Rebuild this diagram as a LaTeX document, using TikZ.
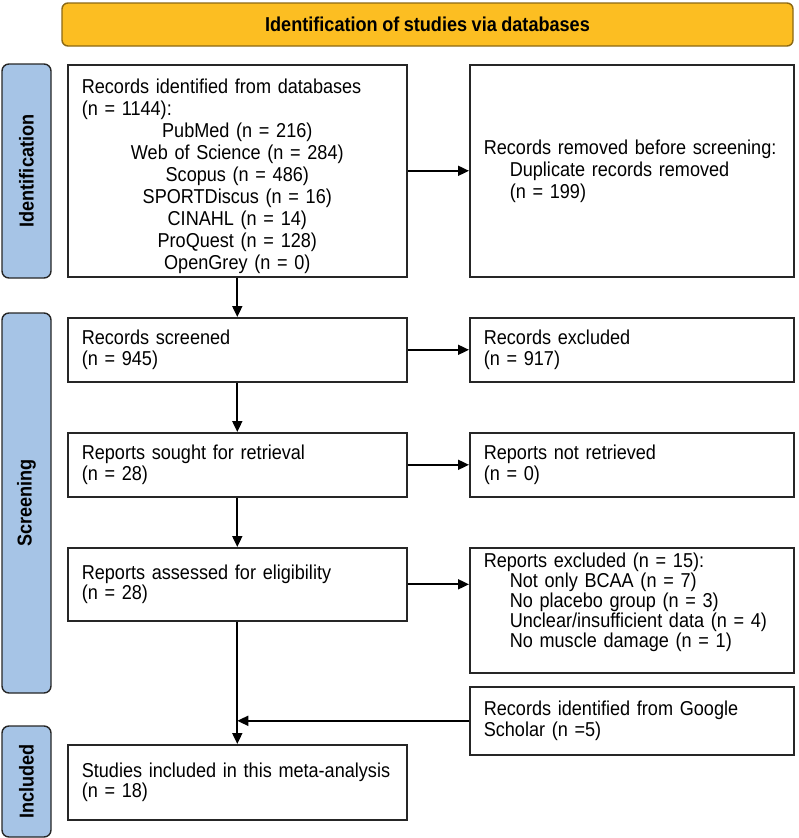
\documentclass[tikz,border=0pt]{standalone}
\usepackage{fontspec}
\setmainfont{Liberation Sans}[FakeStretch=0.9, WordSpace=0.9]
\usetikzlibrary{arrows.meta}
\setlength{\parindent}{0pt}
\definecolor{headfill}{RGB}{252,190,34}
\definecolor{headline}{RGB}{140,105,20}
\definecolor{sidefill}{RGB}{166,196,230}

\begin{document}
\begin{tikzpicture}[x=1pt, y=-1pt,
    every node/.style={font=\fontsize{20.1}{20.5}\selectfont},
    box/.style={draw=black!85, line width=1.6pt, anchor=north west, inner xsep=14pt, inner ysep=0pt, align=left},
    sidebox/.style={draw=black!85, fill=sidefill, line width=1.4pt, rounded corners=7pt, minimum height=49pt, inner sep=0pt, font=\bfseries\fontsize{20.1}{20.5}\selectfont},
    flow/.style={line width=1.8pt, -{Triangle[length=11pt,width=10pt]}}]
    \useasboundingbox (0,0) rectangle (799,838);

    \node[draw=headline, fill=headfill, line width=1.4pt, rounded corners=6pt, minimum width=731pt, minimum height=43pt, font=\bfseries\fontsize{20.1}{20.5}\selectfont] (head) at (427.5,24.5) {Identification of studies via databases};

    \node[sidebox, minimum width=214pt, rotate=90] (idlab) at (26.5,171) {Identification};
    \node[sidebox, minimum width=380pt, rotate=90] (scrlab) at (26.5,503) {Screening};
    \node[sidebox, minimum width=111pt, rotate=90] (inclab) at (26.5,781.5) {Included};

    \node[box, text width=311pt, minimum height=212pt, text height=25pt, font=\fontsize{20.1}{22}\selectfont] (ident) at (67,64) {Records identified from databases\\(n = 1144):\par\centering PubMed (n = 216)\\Web of Science (n = 284)\\Scopus (n = 486)\\SPORTDiscus (n = 16)\\CINAHL (n = 14)\\ProQuest (n = 128)\\OpenGrey (n = 0)\par};
    \node[box, text width=296pt, minimum height=212pt, font=\fontsize{20.1}{22}\selectfont] (removed) at (469,64) {Records removed before screening:\\\hspace*{26pt}Duplicate records removed\\\hspace*{26pt}(n = 199)};

    \node[box, text width=311pt, minimum height=64pt] (screened) at (67,317) {Records screened\\(n = 945)};
    \node[box, text width=296pt, minimum height=64pt] (excluded) at (469,317) {Records excluded\\(n = 917)};

    \node[box, text width=311pt, minimum height=64pt] (sought) at (67,432) {Reports sought for retrieval\\(n = 28)};
    \node[box, text width=296pt, minimum height=64pt] (notret) at (469,432) {Reports not retrieved\\(n = 0)};

    \node[box, text width=311pt, minimum height=73pt] (assessed) at (67,547) {Reports assessed for eligibility\\(n = 28)};
    \node[box, text width=296pt, minimum height=125pt, text depth=100pt, font=\fontsize{20.1}{20}\selectfont] (repexcl) at (469,547) {Reports excluded (n = 15):\\\hspace*{26pt}Not only BCAA (n = 7)\\\hspace*{26pt}No placebo group (n = 3)\\\hspace*{26pt}Unclear/insufficient data (n = 4)\\\hspace*{26pt}No muscle damage (n = 1)};

    \node[box, text width=296pt, minimum height=68pt] (google) at (469,686) {Records identified from Google\\Scholar (n =5)};
    \node[box, text width=311pt, minimum height=75pt] (studies) at (67,744) {Studies included in this meta-analysis\\(n = 18)};

    \draw[flow] (ident.south) -- (screened.north);
    \draw[flow] (screened.south) -- (sought.north);
    \draw[flow] (sought.south) -- (assessed.north);
    \draw[flow] (assessed.south) -- (studies.north);
    \draw[flow] (ident.east) -- (removed.west);
    \draw[flow] (screened.east) -- (excluded.west);
    \draw[flow] (sought.east) -- (notret.west);
    \draw[flow] (assessed.east) -- (repexcl.west |- assessed.east);
    \draw[flow] (google.west) -- (google.west -| assessed.south);
\end{tikzpicture}
\end{document}
